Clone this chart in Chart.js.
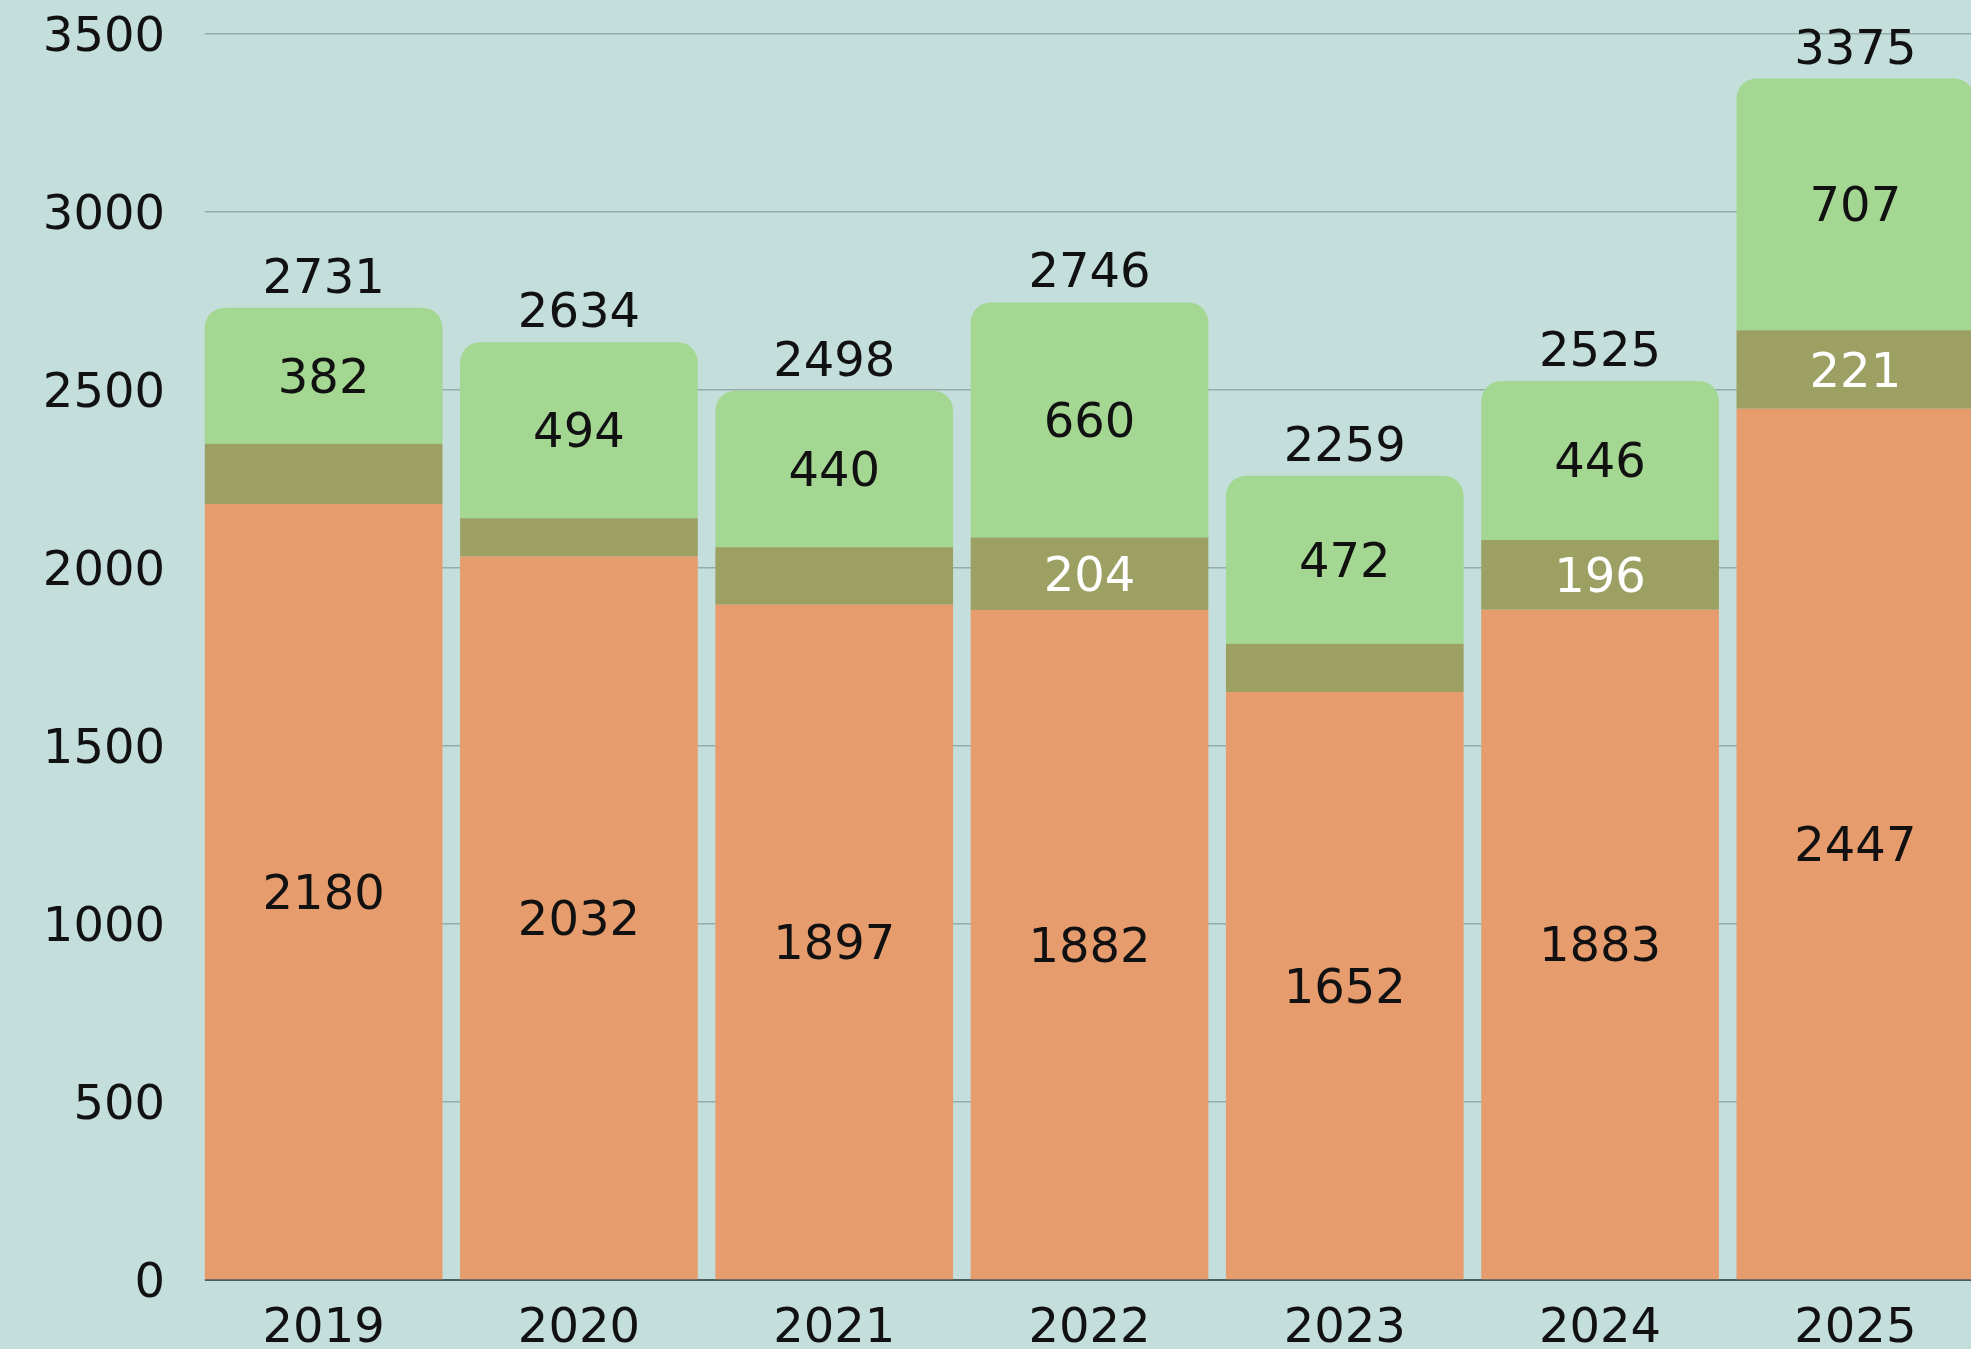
<!DOCTYPE html>
<html lang="en">
<head>
  <meta charset="UTF-8">
  <title>Stacked totals 2019-2025</title>
  <script src="https://cdn.jsdelivr.net/npm/chart.js"></script>
  <style>
    html, body { margin: 0; padding: 0; overflow: hidden; background: #c3dedb; }
    #wrap { width: 1983px; height: 1349px; }
  </style>
</head>
<body>
  <div id="wrap">
    <canvas id="chart" width="1983" height="1349"></canvas>
  </div>
  <script>
    // data
    const years = ['2019', '2020', '2021', '2022', '2023', '2024', '2025'];
    const baseValues = [2180, 2032, 1897, 1882, 1652, 1883, 2447];
    const midValues = [169, 108, 161, 204, 135, 196, 221];
    const topValues = [382, 494, 440, 660, 472, 446, 707];
    const yTicks = [0, 500, 1000, 1500, 2000, 2500, 3000, 3500];

    const FONT = '"DejaVu Sans", sans-serif';
    const BG = '#c3dedb';

    // grid and axis start at the first bar's left edge in the original
    const leftMask = {
      id: 'leftMask',
      beforeDatasetsDraw(chart) {
        const bar = chart.getDatasetMeta(0).data[0];
        const a = chart.chartArea;
        const edge = bar.x - bar.width / 2;
        const ctx = chart.ctx;
        ctx.save();
        ctx.fillStyle = BG;
        ctx.fillRect(a.left - 2, a.top - 2, edge - a.left + 2, a.bottom - a.top + 6);
        ctx.restore();
      }
    };

    // draws the numbers inside segments and the totals on top
    const valueLabels = {
      id: 'valueLabels',
      afterDatasetsDraw(chart) {
        const ctx = chart.ctx;
        ctx.save();
        ctx.font = '48px ' + FONT;
        ctx.textAlign = 'center';
        ctx.textBaseline = 'alphabetic';
        chart.data.datasets.forEach((ds, i) => {
          const meta = chart.getDatasetMeta(i);
          meta.data.forEach((bar, j) => {
            const v = ds.data[j];
            if (v < ds.minLabel) return;
            ctx.fillStyle = ds.labelColor;
            ctx.fillText(String(v), bar.x, (bar.y + bar.base) / 2 + 17);
          });
        });
        // totals
        const topMeta = chart.getDatasetMeta(chart.data.datasets.length - 1);
        topMeta.data.forEach((bar, j) => {
          const total = baseValues[j] + midValues[j] + topValues[j];
          ctx.fillStyle = '#111';
          ctx.fillText(String(total), bar.x, bar.y - 15);
        });
        ctx.restore();
      }
    };

    new Chart(document.getElementById('chart'), {
      type: 'bar',
      data: {
        labels: years,
        datasets: [
          { data: baseValues, backgroundColor: '#e79c6e', labelColor: '#111', minLabel: 0 },
          { data: midValues, backgroundColor: '#9ca062', labelColor: '#ffffff', minLabel: 190 },
          {
            data: topValues, backgroundColor: '#a3d792', labelColor: '#111', minLabel: 0,
            borderRadius: { topLeft: 20, topRight: 20, bottomLeft: 0, bottomRight: 0 },
            borderSkipped: false
          }
        ]
      },
      options: {
        responsive: false,
        animation: false,
        devicePixelRatio: 1,
        layout: { padding: { top: 34, left: 0, right: 0, bottom: 0 } },
        categoryPercentage: 1,
        barPercentage: 0.931,
        plugins: {
          legend: { display: false },
          tooltip: { enabled: false }
        },
        scales: {
          x: {
            stacked: true,
            grid: { display: false },
            border: { display: true, color: '#4d5d5e', width: 2 },
            ticks: { color: '#111', font: { family: FONT, size: 48 }, padding: 13 },
            afterFit(scale) {
              scale.height = 69;
              scale.paddingLeft = 0;
              scale.paddingRight = 0;
            }
          },
          y: {
            stacked: true,
            min: 0,
            max: 3500,
            afterBuildTicks(scale) { scale.ticks = yTicks.map(v => ({ value: v })); },
            grid: { color: '#96aca9', lineWidth: 1.5, drawTicks: false },
            border: { display: false },
            ticks: {
              color: '#111', font: { family: FONT, size: 48 }, padding: 31, labelOffset: 5,
              callback: v => String(v)
            },
            afterFit(scale) {
              scale.width = 196;
              scale.paddingTop = 0;
              scale.paddingBottom = 0;
            }
          }
        }
      },
      plugins: [leftMask, valueLabels]
    });
  </script>
</body>
</html>
